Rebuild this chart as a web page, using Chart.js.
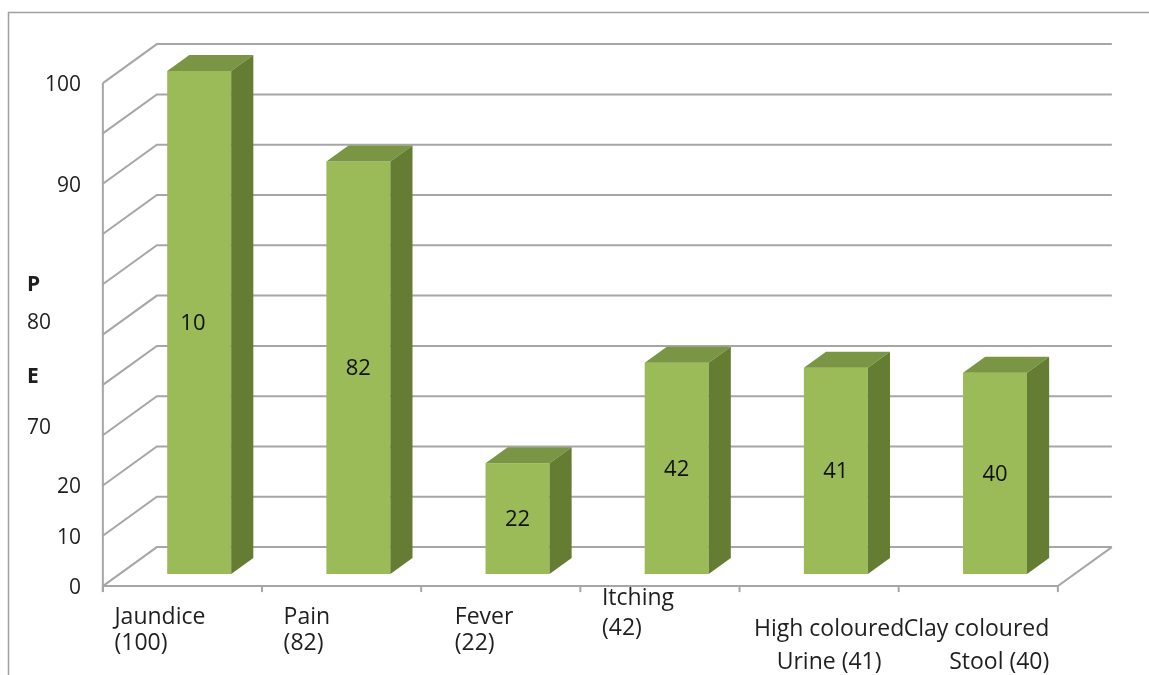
<!DOCTYPE html>
<html>
<head>
<meta charset="utf-8">
<script src="https://cdn.jsdelivr.net/npm/chart.js@4.4.1/dist/chart.umd.min.js"></script>
<style>
  html, body { margin: 0; padding: 0; background: #ffffff; }
  #wrap { width: 1149px; height: 675px; position: relative; }
</style>
</head>
<body>
<div id="wrap"><canvas id="c" width="1149" height="675"></canvas></div>
<script>
// Symptoms and their counts
const categories = [
  ["Jaundice", "(100)"],
  ["Pain", "(82)"],
  ["Fever", "(22)"],
  ["Itching", "(42)"],
  ["High coloured", "Urine (41)"],
  ["Clay coloured", "Stool (40)"]
];
const values = [100, 82, 22, 42, 41, 40];
const valueLabels = ["10", "82", "22", "42", "41", "40"];

// Value-axis labels as they are printed beside the wall
const yTickValues = [0, 10, 20, 30, 40, 50, 60, 80, 100];
const yTickLabels = ["0", "10", "20", "70", "E", "80", "P", "90", "100"];

// ---- drawing style ----
const FONT = '"Open Sans", "Liberation Sans", sans-serif';
const GRID = '#a6a6a6';
const FRONT = '#9bbb59', TOP = '#7a9543', SIDE = '#657d33';
const DX = 54, DY = -39;        // full depth of the floor / side wall
const BAR_AT = 0.31, BAR_DEPTH = 0.41;

// offset of a depth plane (0 = front, 1 = back wall) from the plane the bars face sits in
function plane(t) { return { x: DX * (t - BAR_AT), y: DY * (t - BAR_AT) }; }

// style of each value-axis label (title letters sit at the left edge)
function yLabelStyle(text) {
  if (text === 'P' || text === 'E') return { align: 'left', bold: true, dy: text === 'P' ? 1 : -8 };
  if (text === '80' || text === '70') return { align: 'left', bold: false, dy: text === '80' ? -12 : -7 };
  return { align: 'right', bold: false, dy: 2 };
}

// placement of each category label block relative to its slot on the floor edge
const xLabelPlacement = [
  { align: 'left',   dx: -68, dy: [31, 57] },
  { align: 'left',   dx: -58, dy: [31, 57] },
  { align: 'left',   dx: -46, dy: [31, 57] },
  { align: 'left',   dx: -58, dy: [12, 42] },
  { align: 'center', dx: 10,  dy: [43, 76] },
  { align: 'right',  dx: 71,  dy: [43, 76] }
];

const box3d = {
  id: 'box3d',
  beforeDatasetsDraw(chart) {
    const { ctx, chartArea: a, scales: { x, y } } = chart;
    const f = plane(0), b = plane(1);
    ctx.save();

    // outer frame
    ctx.strokeStyle = '#a0a0a0';
    ctx.lineWidth = 1.5;
    ctx.strokeRect(8.5, 12.5, 1300, 800);

    ctx.strokeStyle = GRID;
    ctx.lineWidth = 2;
    ctx.lineCap = 'butt';
    // side-wall diagonals and back-wall gridlines
    y.ticks.forEach(t => {
      const py = y.getPixelForValue(t.value);
      ctx.beginPath();
      ctx.moveTo(a.left + f.x, py + f.y);
      ctx.lineTo(a.left + b.x, py + b.y);
      ctx.lineTo(a.right + b.x, py + b.y);
      ctx.stroke();
    });
    const y0 = y.getPixelForValue(0), yTop = y.getPixelForValue(100);
    // floor front edge and right edge
    ctx.beginPath();
    ctx.moveTo(a.left + f.x, y0 + f.y);
    ctx.lineTo(a.right + f.x, y0 + f.y);
    ctx.lineTo(a.right + b.x, y0 + b.y);
    ctx.stroke();
    // front vertical axis
    ctx.beginPath();
    ctx.moveTo(a.left + f.x, yTop + f.y);
    ctx.lineTo(a.left + f.x, y0 + f.y + 6);
    ctx.stroke();
    // category tick marks
    const n = categories.length;
    for (let i = 0; i <= n; i++) {
      const px = a.left + (a.width / n) * i + f.x;
      ctx.beginPath();
      ctx.moveTo(px, y0 + f.y);
      ctx.lineTo(px, y0 + f.y + 6);
      ctx.stroke();
    }

    // value-axis labels
    ctx.fillStyle = '#1f1f1f';
    ctx.textBaseline = 'middle';
    yTickValues.forEach((v, i) => {
      const s = yLabelStyle(yTickLabels[i]);
      ctx.font = (s.bold ? 'bold ' : '') + '21px ' + FONT;
      ctx.textAlign = s.align;
      const px = s.align === 'right' ? 81 : 27;
      ctx.fillText(yTickLabels[i], px, y.getPixelForValue(v) + f.y + s.dy);
    });

    // category labels
    ctx.font = '23px ' + FONT;
    categories.forEach((lines, i) => {
      const p = xLabelPlacement[i];
      const cx = x.getPixelForValue(i) + f.x + p.dx;
      ctx.textAlign = p.align;
      lines.forEach((ln, j) => ctx.fillText(ln, cx, y0 + f.y + p.dy[j]));
    });
    ctx.restore();
  },
  afterDatasetsDraw(chart) {
    const { ctx } = chart;
    const meta = chart.getDatasetMeta(0);
    const dx = DX * BAR_DEPTH, dy = DY * BAR_DEPTH;
    ctx.save();
    meta.data.forEach((bar, i) => {
      const { x, y, base, width } = bar.getProps(['x', 'y', 'base', 'width'], true);
      const l = x - width / 2, r = x + width / 2;
      // top face
      ctx.fillStyle = TOP;
      ctx.beginPath();
      ctx.moveTo(l, y); ctx.lineTo(r, y); ctx.lineTo(r + dx, y + dy); ctx.lineTo(l + dx, y + dy);
      ctx.closePath(); ctx.fill();
      // side face
      ctx.fillStyle = SIDE;
      ctx.beginPath();
      ctx.moveTo(r, y); ctx.lineTo(r + dx, y + dy); ctx.lineTo(r + dx, base + dy); ctx.lineTo(r, base);
      ctx.closePath(); ctx.fill();

      // value label, set where the full number would start
      ctx.font = '22px ' + FONT;
      ctx.fillStyle = '#111111';
      ctx.textBaseline = 'middle';
      ctx.textAlign = 'left';
      const full = ctx.measureText(String(values[i])).width;
      ctx.fillText(valueLabels[i], x - full / 2, (y + base) / 2 + 1);
    });
    ctx.restore();
  }
};

new Chart(document.getElementById('c'), {
  type: 'bar',
  data: {
    labels: categories,
    datasets: [{
      data: values,
      backgroundColor: FRONT,
      borderWidth: 0,
      barPercentage: 0.402,
      categoryPercentage: 1
    }]
  },
  options: {
    responsive: false,
    animation: false,
    devicePixelRatio: 1,
    layout: { padding: { left: 119.6, right: 74.4, top: 71, bottom: 101 } },
    plugins: { legend: { display: false }, tooltip: { enabled: false } },
    scales: {
      x: { display: false },
      y: { display: false, min: 0, max: 100, ticks: { stepSize: 10 } }
    }
  },
  plugins: [box3d]
});
</script>
</body>
</html>
